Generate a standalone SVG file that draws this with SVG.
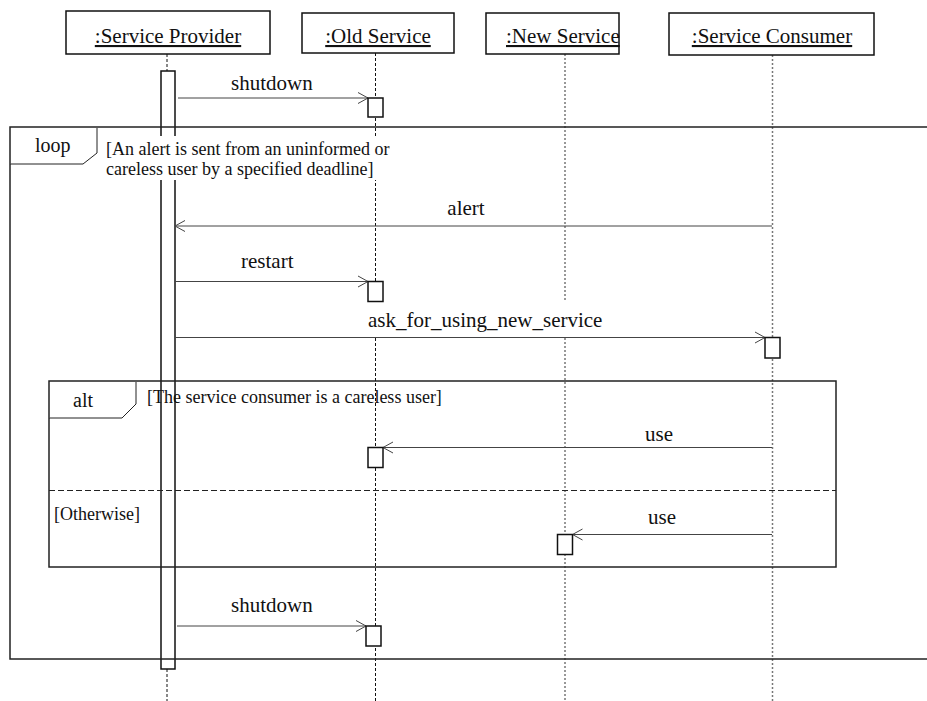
<svg xmlns="http://www.w3.org/2000/svg" width="927" height="701" viewBox="0 0 927 701">
  <style>
    .head { fill: #fff; stroke: #111; stroke-width: 1.5; }
    .name { font-family: "Liberation Serif", "Times New Roman", serif; font-size: 21px; fill: #111; text-decoration: underline; }
    .life { stroke: #111; stroke-width: 1; stroke-dasharray: 3 2; fill: none; }
    .life2 { stroke: #777; stroke-width: 1.5; stroke-dasharray: 2 2; fill: none; }
    .act { fill: #fff; stroke: #111; stroke-width: 1.5; }
    .frame { fill: none; stroke: #222; stroke-width: 1.5; }
    .tab { fill: #fff; stroke: #222; stroke-width: 1; }
    .sep { stroke: #222; stroke-width: 1.2; stroke-dasharray: 6 3; }
    .msg { stroke: #444; stroke-width: 1; fill: none; marker-end: url(#open); }
    .lbl { font-family: "Liberation Serif", "Times New Roman", serif; font-size: 21px; fill: #111; }
    .op { font-family: "Liberation Serif", "Times New Roman", serif; font-size: 20px; fill: #111; }
    .guard { font-family: "Liberation Serif", "Times New Roman", serif; font-size: 18px; fill: #111; }
    .bg { fill: #fff; stroke: none; }
  </style>
  <defs>
    <marker id="open" markerUnits="userSpaceOnUse" markerWidth="12" markerHeight="14" viewBox="0 0 12 14" refX="11" refY="6.5" orient="auto">
      <path d="M1,1 L11,6.5 L1,12" fill="none" stroke="#444" stroke-width="1"/>
    </marker>
  </defs>

  <rect width="927" height="701" fill="#fff"/>

  <!-- lifelines -->
  <g id="lifelines">
    <line class="life" x1="167" y1="54" x2="167" y2="701"/>
    <line class="life" x1="375.5" y1="53" x2="375.5" y2="701"/>
    <line class="life2" x1="565" y1="54" x2="565" y2="701"/>
    <line class="life2" x1="772.5" y1="55" x2="772.5" y2="701"/>
  </g>

  <!-- participant heads -->
  <g id="provider">
    <rect class="head" x="66" y="11" width="204" height="43"/>
    <text class="name" x="168" y="43" text-anchor="middle">:Service Provider</text>
    <rect class="act" x="161" y="71" width="14" height="598"/>
  </g>
  <g id="old-service">
    <rect class="head" x="302" y="13" width="152" height="40"/>
    <text class="name" x="378" y="43" text-anchor="middle">:Old Service</text>
  </g>
  <g id="new-service">
    <rect class="head" x="486" y="13" width="133" height="41"/>
    <text class="name" x="506" y="43">:New Service</text>
  </g>
  <g id="consumer">
    <rect class="head" x="669" y="13" width="205" height="42"/>
    <text class="name" x="772" y="43" text-anchor="middle">:Service Consumer</text>
  </g>

  <!-- loop fragment -->
  <g id="loop">
    <rect class="frame" x="10" y="127" width="930" height="532"/>
    <path class="tab" d="M10,164 H83 L97,153 V128"/>
    <text class="op" x="35" y="152">loop</text>
    <rect class="bg" x="104" y="136" width="288" height="44"/>
    <text class="guard" x="106" y="155">[An alert is sent from an uninformed or</text>
    <text class="guard" x="106" y="175">careless user by a specified deadline]</text>
  </g>

  <!-- alt fragment -->
  <g id="alt">
    <rect class="frame" x="49" y="381" width="787" height="186"/>
    <path class="tab" d="M49,418 H122 L136,404 V382"/>
    <text class="op" x="73" y="407">alt</text>
    <text class="guard" x="147" y="403">[The service consumer is a careless user]</text>
    <line class="sep" x1="49" y1="490.5" x2="836" y2="490.5"/>
    <text class="guard" x="54" y="520">[Otherwise]</text>
  </g>

  <!-- messages -->
  <g id="connectors">
    <line class="msg" x1="178" y1="98" x2="368" y2="98"/>
    <text class="lbl" x="231" y="90">shutdown</text>

    <line class="msg" x1="772" y1="226" x2="175" y2="226"/>
    <text class="lbl" x="466" y="215" text-anchor="middle">alert</text>

    <line class="msg" x1="175" y1="281.5" x2="368" y2="281.5"/>
    <text class="lbl" x="241" y="268">restart</text>

    <line class="msg" x1="175" y1="337.5" x2="765" y2="337.5"/>
    <rect class="bg" x="357" y="300" width="259" height="37"/>
    <text class="lbl" x="368" y="327">ask_for_using_new_service</text>

    <line class="msg" x1="772" y1="447.5" x2="383" y2="447.5"/>
    <text class="lbl" x="645" y="441">use</text>

    <line class="msg" x1="772" y1="534.5" x2="572.5" y2="534.5"/>
    <text class="lbl" x="648" y="524">use</text>

    <line class="msg" x1="177" y1="626" x2="366" y2="626"/>
    <text class="lbl" x="231" y="612">shutdown</text>
  </g>

  <!-- activations on receivers -->
  <g id="activations">
    <rect class="act" x="368" y="98" width="15" height="19"/>
    <rect class="act" x="368" y="281.5" width="15" height="20"/>
    <rect class="act" x="765" y="337.5" width="15" height="20.5"/>
    <rect class="act" x="368" y="447.5" width="15" height="20"/>
    <rect class="act" x="557.5" y="534.5" width="15" height="20"/>
    <rect class="act" x="366" y="626" width="15" height="20"/>
  </g>
</svg>
